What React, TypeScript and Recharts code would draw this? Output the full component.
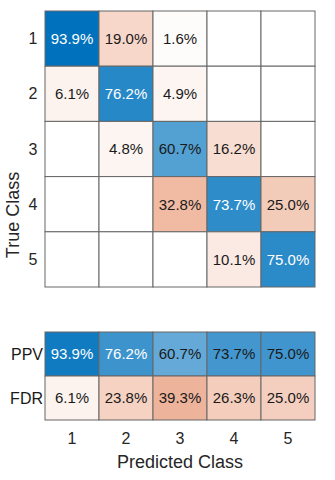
import { Scatter, ScatterChart, XAxis, YAxis } from 'recharts';

const classes = ['1', '2', '3', '4', '5'];
const summaryLabels = ['PPV', 'FDR'];

// rows = true class, columns = predicted class (column-normalized %)
const trueClass1 = [93.9, 19.0, 1.6, 0, 0];
const trueClass2 = [6.1, 76.2, 4.9, 0, 0];
const trueClass3 = [0, 4.8, 60.7, 16.2, 0];
const trueClass4 = [0, 0, 32.8, 73.7, 25.0];
const trueClass5 = [0, 0, 0, 10.1, 75.0];
const ppv = [93.9, 76.2, 60.7, 73.7, 75.0];
const fdr = [6.1, 23.8, 39.3, 26.3, 25.0];

const rows = [trueClass1, trueClass2, trueClass3, trueClass4, trueClass5];

const FONT = '"Liberation Sans", Arial, Helvetica, sans-serif';
const BLUE = [0, 114, 189];
const RED = [217, 83, 25];

const W = 335;
const MAIN_H = 300;
const SUM_H = 180;
const Y_AXIS_W = 45;
const RIGHT = 20;
const MAIN_M = { top: 11, right: RIGHT, bottom: 13, left: 0 };
const SUM_M = { top: 32, right: RIGHT, bottom: 8, left: 0 };
const X_AXIS_H = 52;

const cellW = (W - Y_AXIS_W - RIGHT) / classes.length;
const mainCellH = (MAIN_H - MAIN_M.top - MAIN_M.bottom) / classes.length;
const sumCellH = (SUM_H - SUM_M.top - SUM_M.bottom - X_AXIS_H) / summaryLabels.length;

type Pt = { x: number; y: number; value: number; good: boolean };

const mainData: Pt[] = rows.flatMap((row, r) =>
  row.map((value, c) => ({ x: c + 1, y: r + 1, value, good: r === c })),
);
const summaryData: Pt[] = [
  ...ppv.map((value, c) => ({ x: c + 1, y: 1, value, good: true })),
  ...fdr.map((value, c) => ({ x: c + 1, y: 2, value, good: false })),
];

function mix(base: number[], t: number) {
  const c = base.map((b) => Math.round(255 + (b - 255) * t));
  return `rgb(${c.join(',')})`;
}

// blueMax / redMax: value that maps to the full colour
function makeShape(w: number, h: number, blueMax: number, redMax: number) {
  return (props: any) => {
    const { cx, cy, payload } = props;
    const t = Math.min(1, payload.value / (payload.good ? blueMax : redMax));
    const fill = payload.value === 0 ? '#ffffff' : mix(payload.good ? BLUE : RED, t);
    return (
      <g>
        <rect x={cx - w / 2} y={cy - h / 2} width={w} height={h} fill={fill} stroke="#666" strokeWidth={1} />
        {payload.value > 0 && (
          <text
            x={cx}
            y={cy}
            dy="0.36em"
            textAnchor="middle"
            fontSize={15}
            fill={payload.good && t > 0.755 ? '#ffffff' : '#1a1a1a'}
          >
            {payload.value.toFixed(1)}%
          </text>
        )}
      </g>
    );
  };
}

export default function App() {
  return (
    <div style={{ position: 'absolute', left: 0, top: 0, width: W, height: 480, background: '#fff', fontFamily: FONT }}>
      <div style={{ position: 'absolute', left: 0, top: 0 }}>
        <ScatterChart width={W} height={MAIN_H} margin={MAIN_M}>
          <XAxis type="number" dataKey="x" domain={[0.5, 5.5]} hide />
          <YAxis
            type="number"
            dataKey="y"
            domain={[0.5, 5.5]}
            reversed
            ticks={[1, 2, 3, 4, 5]}
            tickFormatter={(v) => classes[v - 1]}
            width={Y_AXIS_W}
            axisLine={false}
            tickLine={false}
            tickSize={0}
            tickMargin={7.5}
            tick={{ fontSize: 16, fill: '#262626' }}
          />
          <Scatter data={mainData} shape={makeShape(cellW, mainCellH, 90, 82)} isAnimationActive={false} />
        </ScatterChart>
      </div>
      <div style={{ position: 'absolute', left: 0, top: MAIN_H }}>
        <ScatterChart width={W} height={SUM_H} margin={SUM_M}>
          <XAxis
            type="number"
            dataKey="x"
            domain={[0.5, 5.5]}
            ticks={[1, 2, 3, 4, 5]}
            tickFormatter={(v) => classes[v - 1]}
            height={X_AXIS_H}
            axisLine={false}
            tickLine={false}
            tickSize={0}
            tickMargin={13}
            tick={{ fontSize: 16, fill: '#262626' }}
            label={{ value: 'Predicted Class', position: 'insideBottom', offset: 4, fontSize: 18, fill: '#262626' }}
          />
          <YAxis
            type="number"
            dataKey="y"
            domain={[0.5, 2.5]}
            reversed
            ticks={[1, 2]}
            tickFormatter={(v) => summaryLabels[v - 1]}
            width={Y_AXIS_W}
            axisLine={false}
            tickLine={false}
            tickSize={0}
            tickMargin={2}
            tick={{ fontSize: 16, fill: '#1a1a1a' }}
          />
          <Scatter data={summaryData} shape={makeShape(cellW, sumCellH, 100, 90)} isAnimationActive={false} />
        </ScatterChart>
      </div>
      <svg style={{ position: 'absolute', left: 0, top: 0 }} width={30} height={480}>
        <text transform="translate(19,215) rotate(-90)" textAnchor="middle" fontSize={18} fill="#262626">
          True Class
        </text>
      </svg>
    </div>
  );
}
